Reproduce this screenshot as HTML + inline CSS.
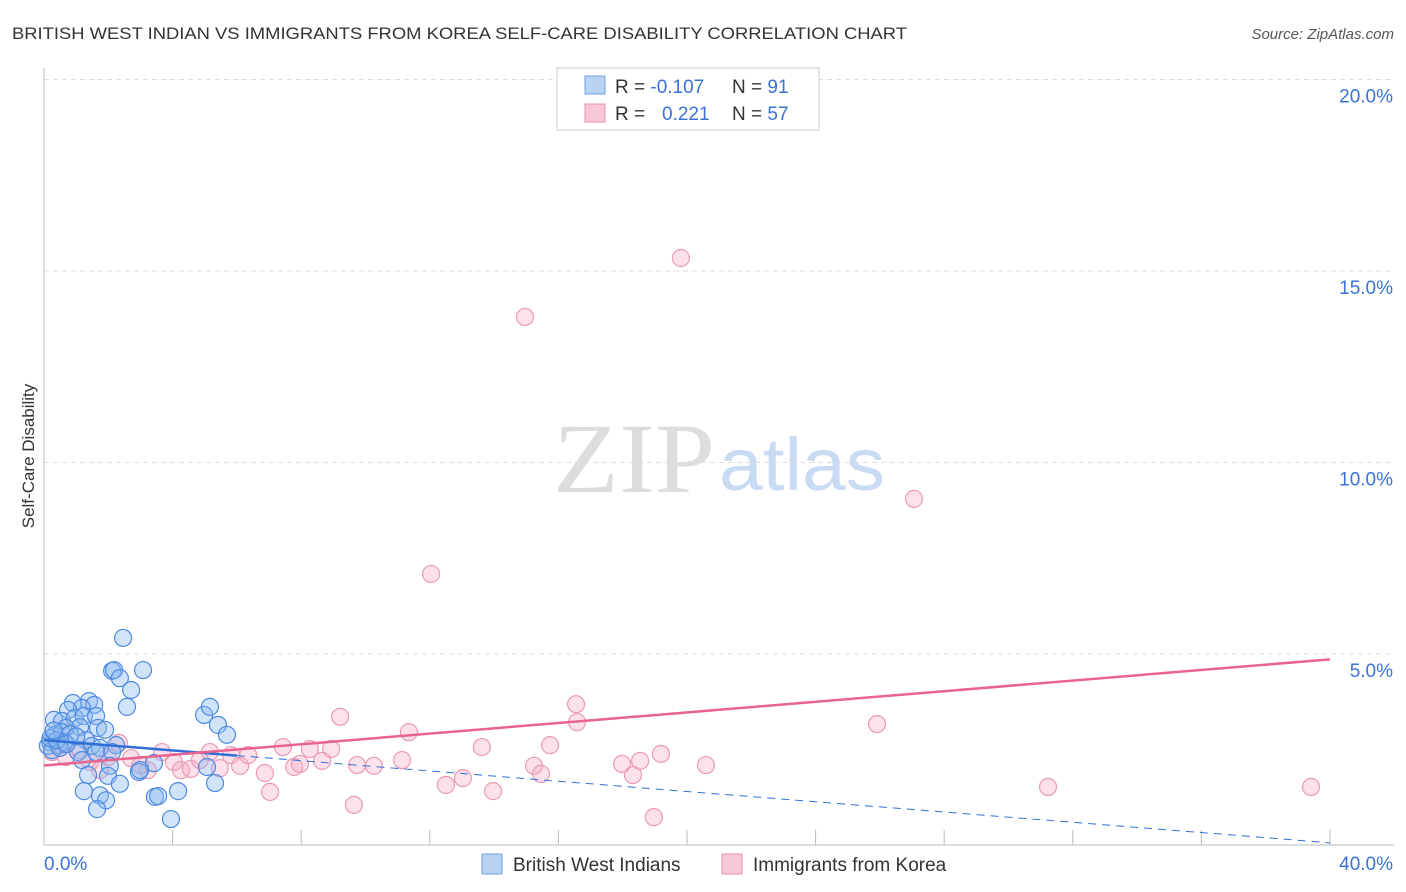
<!DOCTYPE html>
<html><head><meta charset="utf-8"><style>
body{margin:0;background:#fff;font-family:"Liberation Sans",sans-serif;}
#wrap{position:relative;width:1406px;height:892px;overflow:hidden}
</style></head><body>
<div id="wrap">
<svg id="svg" width="1406" height="892">
<text x="12" y="39" font-size="17" fill="#333" textLength="895" lengthAdjust="spacingAndGlyphs">BRITISH WEST INDIAN VS IMMIGRANTS FROM KOREA SELF-CARE DISABILITY CORRELATION CHART</text>
<text x="1394" y="39" font-size="15" fill="#555" font-style="italic" text-anchor="end">Source: ZipAtlas.com</text>
<text x="34" y="456" font-size="17" fill="#333" text-anchor="middle" transform="rotate(-90 34 456)">Self-Care Disability</text>
<text x="553" y="492" font-size="100" fill="#ddd" textLength="162" lengthAdjust="spacingAndGlyphs" font-family="Liberation Serif,serif">ZIP</text>
<text x="719" y="490" font-size="74" fill="#c9daf3" textLength="166" lengthAdjust="spacingAndGlyphs">atlas</text>
<g id="grid"></g><g id="marks"></g>
<g>
<rect x="557" y="68" width="262" height="62" fill="#fff" stroke="#ccc"/>
<rect x="585" y="76" width="20" height="18" fill="#b9d3f3" stroke="#6fa0e0"/>
<rect x="585" y="104" width="20" height="18" fill="#f8c7d6" stroke="#e890ab"/>
<text x="615" y="93" font-size="19" fill="#333">R = <tspan fill="#3a72d8">-0.107</tspan><tspan x="732">N = </tspan><tspan fill="#3a72d8">91</tspan></text>
<text x="615" y="120" font-size="19" fill="#333">R = <tspan x="662" fill="#3a72d8">0.221</tspan><tspan x="732">N = </tspan><tspan fill="#3a72d8">57</tspan></text>
</g>
<g>
<rect x="482" y="854" width="20" height="20" fill="#b9d3f3" stroke="#6fa0e0"/>
<text x="513" y="871" font-size="19" fill="#333">British West Indians</text>
<rect x="722" y="854" width="20" height="20" fill="#f8c7d6" stroke="#e890ab"/>
<text x="753" y="871" font-size="19" fill="#333">Immigrants from Korea</text>
</g>
</svg></div>
<script>
const yTicks=[5,10,15,20];
const xTickLabels=["0.0%","40.0%"];
const blueX=[2.46,2.12,2.18,3.08,2.36,2.71,2.58,0.90,1.40,1.56,1.18,0.75,0.31,0.56,0.96,1.24,1.62,0.68,1.12,1.68,1.90,0.34,0.56,0.81,0.19,0.44,0.62,1.31,1.49,1.74,2.24,0.12,0.25,0.50,1.06,1.62,2.12,1.18,2.05,1.37,1.99,2.36,1.24,1.74,1.93,1.65,2.95,3.42,3.45,3.55,4.17,3.95,4.98,5.16,5.41,5.69,5.07,5.32,2.99,0.20,0.40,0.70,1.00,0.30];
const blueY=[5.42,4.56,4.58,4.58,4.37,4.06,3.62,3.72,3.77,3.67,3.59,3.54,3.28,3.25,3.33,3.38,3.38,3.07,3.09,3.07,3.02,2.89,2.96,2.91,2.70,2.62,2.70,2.75,2.60,2.55,2.62,2.60,2.49,2.55,2.44,2.44,2.44,2.23,2.08,1.84,1.82,1.61,1.42,1.31,1.18,0.95,1.92,2.15,1.27,1.29,1.42,0.69,3.41,3.62,3.15,2.89,2.05,1.63,1.97,2.80,2.75,2.65,2.85,3.0];
const pinkX=[19.81,14.96,27.06,12.04,16.55,16.58,9.21,11.35,25.91,2.33,0.25,0.68,1.43,1.99,2.71,3.23,3.67,4.04,4.26,4.57,4.85,5.16,5.47,5.82,6.10,6.35,6.87,7.03,7.43,7.78,7.96,8.27,8.65,8.93,9.64,9.74,10.26,11.14,12.50,13.03,13.62,13.97,15.24,15.46,15.74,17.98,18.32,18.54,18.97,19.19,20.59,31.23,39.41,0.50,1.12,1.74,2.99];
const pinkY=[15.34,13.80,9.05,7.09,3.69,3.22,3.36,2.96,3.17,2.68,2.44,2.31,2.18,2.31,2.28,1.97,2.44,2.18,1.97,2.00,2.23,2.44,2.02,2.36,2.08,2.36,1.89,1.40,2.57,2.05,2.13,2.52,2.21,2.52,1.06,2.10,2.08,2.23,1.58,1.76,2.57,1.42,2.08,1.87,2.62,2.13,1.84,2.21,0.74,2.39,2.10,1.53,1.53,2.62,2.49,1.97,2.10];
const blueTrend=[2.75,0.07];const pinkTrend=[2.09,4.86];
const X=v=>44+v*32.15, Y=v=>845.5-v*38.3;
const NS="http://www.w3.org/2000/svg";
function mk(t,a,p){const e=document.createElementNS(NS,t);for(const k in a)e.setAttribute(k,a[k]);p.appendChild(e);return e;}
const g=document.getElementById('grid'),m=document.getElementById('marks');
let ax=mk('line',{x1:44,y1:68,x2:44,y2:845,stroke:'#bbb'},g);

let bx=mk('line',{x1:44,y1:845,x2:1394,y2:845,stroke:'#bbb'},g);

for(let i=1;i<=10;i++){const t=mk('line',{x1:44+i*128.6,y1:830,x2:44+i*128.6,y2:845,stroke:'#bbb'},g);}
yTicks.forEach(v=>{const l=mk('line',{x1:44,y1:Y(v),x2:1394,y2:Y(v),stroke:'#ddd','stroke-dasharray':'5,4'},g);

const t=mk('text',{x:1393,y:Y(v)+23,'font-size':19,fill:'#3a72d8','text-anchor':'end'},g);t.textContent=v.toFixed(1)+'%';
});
xTickLabels.forEach((s,i)=>{const t=mk('text',{x:i?1393:44,y:870,'font-size':19,fill:'#3a72d8','text-anchor':i?'end':'start'},g);t.textContent=s;
});
pinkX.forEach((x,i)=>{const c=mk('circle',{cx:X(x),cy:Y(pinkY[i]),r:8.5,fill:'rgba(246,170,195,0.35)',stroke:'#eb9ab4','stroke-width':1.2},m);
});
blueX.forEach((x,i)=>{const c=mk('circle',{cx:X(x),cy:Y(blueY[i]),r:8.5,fill:'rgba(140,185,240,0.4)',stroke:'#4d8ae0','stroke-width':1.2},m);
});
const bt=x=>blueTrend[0]+(blueTrend[1]-blueTrend[0])*x/40, pt=x=>pinkTrend[0]+(pinkTrend[1]-pinkTrend[0])*x/40;
let l1=mk('line',{x1:X(0),y1:Y(bt(0)),x2:X(6),y2:Y(bt(6)),stroke:'#2f6fd6','stroke-width':2.5},m);

let l2=mk('line',{x1:X(6),y1:Y(bt(6)),x2:X(40),y2:Y(bt(40)),stroke:'#2f6fd6','stroke-width':1,'stroke-dasharray':'8,6'},m);

let l3=mk('line',{x1:X(0),y1:Y(pt(0)),x2:X(40),y2:Y(pt(40)),stroke:'#e8638f','stroke-width':2.5},m);

</script>
</body></html>
